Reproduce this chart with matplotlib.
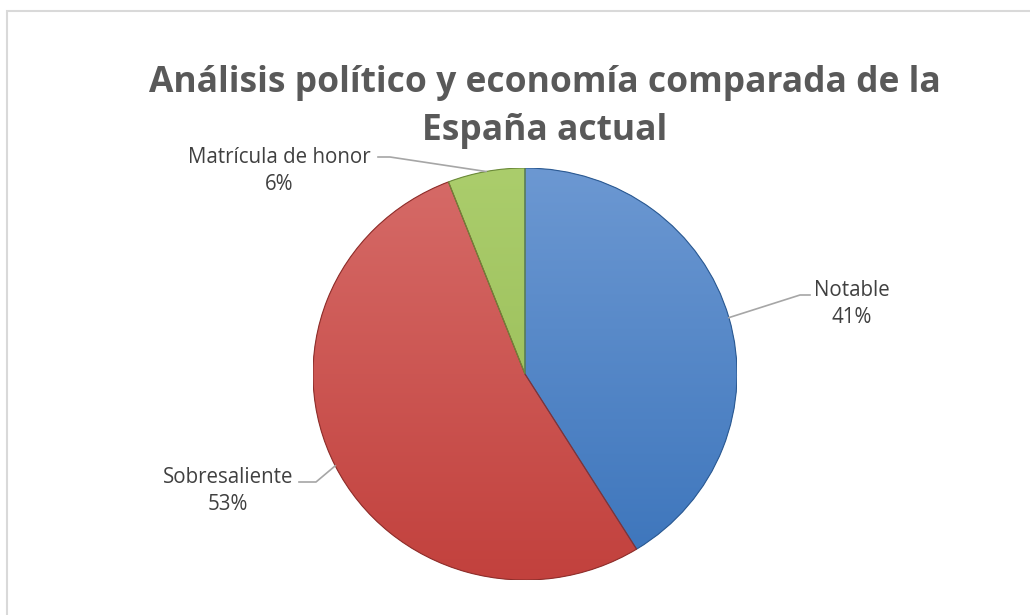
import numpy as np
import matplotlib
matplotlib.use("Agg")
import matplotlib.pyplot as plt
from matplotlib.colors import LinearSegmentedColormap
from matplotlib.patches import Rectangle, PathPatch
from matplotlib.lines import Line2D

plt.rcParams['font.family'] = ['Open Sans', 'DejaVu Sans']

# datos: alumnos por calificacion (7, 9, 1 de 17)
categorias = ['Notable', 'Sobresaliente', 'Matrícula de honor']
alumnos = [7, 9, 1]
titulo = 'Análisis político y economía comparada de la\nEspaña actual'

colores_claro = ['#6c98d2', '#d66b68', '#abcd6c']
colores_oscuro = ['#3b74bb', '#c2413d', '#93b852']
bordes = ['#2c5a92', '#8e2f2c', '#6b8a3a']

W, H = 1030, 615
fig = plt.figure(figsize=(W / 100, H / 100), dpi=100)
fig.patch.set_facecolor('white')

# marco del grafico
fig.patches.append(Rectangle((7 / W, -0.1), 1.2, (H - 11) / H + 0.1, transform=fig.transFigure,
                             fill=False, edgecolor='#d9d9d9', linewidth=1.5))

ax = fig.add_axes([313 / W, 35 / H, 424 / W, 412 / H])
wedges, _ = ax.pie(alumnos, startangle=90, counterclock=False, colors=colores_oscuro,
                   wedgeprops=dict(edgecolor='none'))
ax.set_aspect('auto')

# degradado vertical dentro de cada sector
grad = np.linspace(0, 1, 256).reshape(-1, 1)
for w, c1, c2, ce in zip(wedges, colores_claro, colores_oscuro, bordes):
    cmap = LinearSegmentedColormap.from_list('g', [c2, c1])
    im = ax.imshow(grad, extent=(-1, 1, -1, 1), origin='lower', cmap=cmap, aspect='auto', zorder=2)
    im.set_clip_path(w)
    w.set_zorder(1)
    ax.add_patch(PathPatch(w.get_path(), fill=False, edgecolor=ce, linewidth=0.8,
                           zorder=3, transform=w.get_transform()))
ax.set_xlim(-1, 1)
ax.set_ylim(-1, 1)
ax.axis('off')

# etiquetas con lineas guia (posiciones en pixeles de la figura)
total = sum(alumnos)
pct = [round(100 * a / total) for a in alumnos]
texto_pos = [(852, H - 304), (228, H - 491), (279, H - 171)]
codos = [((800, H - 295), (810, H - 295)),
         ((316, H - 482), (299, H - 482)),
         ((390, H - 157), (378, H - 157))]
for w, cat, p, tp, (c1, c2) in zip(wedges, categorias, pct, texto_pos, codos):
    ang = np.deg2rad((w.theta1 + w.theta2) / 2)
    borde = ax.transData.transform((np.cos(ang), np.sin(ang)))
    xs = [borde[0] / W, c1[0] / W, c2[0] / W]
    ys = [borde[1] / H, c1[1] / H, c2[1] / H]
    fig.lines.append(Line2D(xs, ys, transform=fig.transFigure, color='#a6a6a6', linewidth=1.2))
    fig.text(tp[0] / W, tp[1] / H, f'{cat}\n{p}%', ha='center', va='center',
             fontsize=14.8, color='#404040', linespacing=1.4)

fig.text(545 / W, (H - 107) / H, titulo, ha='center', va='center', fontsize=25.5,
         fontweight='bold', color='#595959', linespacing=1.42)

fig.savefig('out.png', dpi=100)
